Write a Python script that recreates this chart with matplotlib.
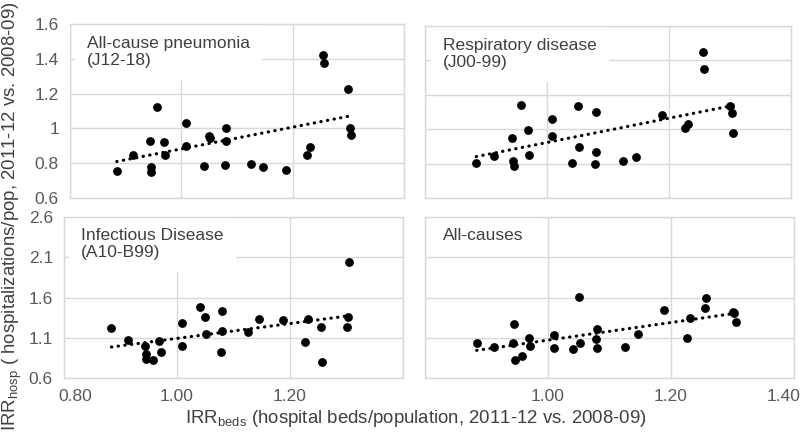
import matplotlib
matplotlib.use("Agg")
import matplotlib.pyplot as plt
from matplotlib.transforms import ScaledTranslation
import numpy as np

plt.rcParams["font.family"] = ["Liberation Sans", "DejaVu Sans"]
plt.rcParams["mathtext.fontset"] = "custom"
plt.rcParams["mathtext.rm"] = "Liberation Sans"
plt.rcParams["mathtext.it"] = "Liberation Sans:italic"

# IRR of hospital beds per population (shared x for all panels)
IRR_BEDS = [0.884, 0.913, 0.943, 0.945, 0.946, 0.957, 0.969, 0.971, 1.009, 1.009,
            1.041, 1.050, 1.052, 1.078, 1.080, 1.080, 1.125, 1.146, 1.188, 1.226,
            1.231, 1.255, 1.257, 1.300, 1.303, 1.305]

PNEUMONIA = [0.756, 0.850, 0.928, 0.776, 0.751, 1.125, 0.923, 0.850, 1.029, 0.898,
             0.785, 0.957, 0.942, 0.789, 1.001, 0.928, 0.798, 0.776, 0.760, 0.846,
             0.894, 1.421, 1.375, 1.228, 1.003, 0.961]
RESPIRATORY = [0.804, 0.844, 0.951, 0.815, 0.786, 1.142, 0.993, 0.850, 1.057, 0.962,
               0.806, 1.134, 0.899, 0.798, 1.098, 0.870, 0.815, 0.839, 1.084, 1.005,
               1.030, 1.451, 1.353, 1.134, 1.094, 0.976]
INFECTIOUS = [1.223, 1.067, 0.998, 0.896, 0.834, 0.818, 1.059, 0.928, 1.284, 0.994,
              1.476, 1.358, 1.145, 0.920, 1.435, 1.190, 1.170, 1.337, 1.317, 1.047,
              1.329, 1.231, 0.802, 1.231, 1.358, 2.036]
ALL_CAUSES = [1.034, 0.985, 1.034, 1.277, 0.828, 0.870, 1.096, 0.993, 1.137, 0.977,
              0.956, 1.610, 1.038, 1.088, 1.203, 0.972, 0.989, 1.149, 1.446, 1.100,
              1.343, 1.470, 1.594, 1.421, 1.405, 1.298]

TITLES = ["All-cause pneumonia\n(J12-18)", "Respiratory disease\n(J00-99)",
          "Infectious Disease\n(A10-B99)", "All-causes"]

X_TICKS = [0.80, 1.00, 1.20, 1.40]
Y_TICKS_TOP = [0.6, 0.8, 1.0, 1.2, 1.4, 1.6]
Y_LABELS_TOP = ["0.6", "0.8", "1", "1.2", "1.4", "1.6"]
Y_TICKS_BOT = [0.6, 1.1, 1.6, 2.1, 2.6]
Y_LABELS_BOT = ["0.6", "1.1", "1.6", "2.1", "2.6"]

GRID = "#d9d9d9"
TICK_COLOR = "#595959"
TEXT_COLOR = "#404040"

fig = plt.figure(figsize=(8.0, 4.33), dpi=100)

# panel boxes in figure fraction (left, bottom, width, height)
boxes = [
    (0.0875, 0.5427, 0.4175, 0.4019),
    (0.53125, 0.5427, 0.4575, 0.3972),
    (0.080, 0.1270, 0.42375, 0.3718),
    (0.53125, 0.1270, 0.46125, 0.3718),
]
series = [PNEUMONIA, RESPIRATORY, INFECTIOUS, ALL_CAUSES]


def nudge(label, px):
    # shift an edge tick label sideways, like Excel keeps it inside the chart
    label.set_transform(label.get_transform() + ScaledTranslation(px / 100, 0, fig.dpi_scale_trans))


x = np.array(IRR_BEDS)
for i, (box, ys, title) in enumerate(zip(boxes, series, TITLES)):
    ax = fig.add_axes(box)
    y = np.array(ys)
    top = i < 2
    left = i % 2 == 0

    ax.set_xlim(0.8, 1.4)
    ax.set_xticks(X_TICKS)
    if top:
        ax.set_ylim(0.6, 1.6)
        ax.set_yticks(Y_TICKS_TOP)
        ax.set_yticklabels(Y_LABELS_TOP if left else [])
    else:
        ax.set_ylim(0.6, 2.6)
        ax.set_yticks(Y_TICKS_BOT)
        ax.set_yticklabels(Y_LABELS_BOT if left else [])

    if top:
        ax.set_xticklabels([])
    elif left:
        ax.set_xticklabels(["0.80", "1.00", "1.20", ""])
    else:
        ax.set_xticklabels(["", "1.00", "1.20", "1.40"])

    ax.grid(True, color=GRID, linewidth=1.0, zorder=0)
    ax.set_axisbelow(True)
    for s in ax.spines.values():
        s.set_color(GRID)
        s.set_linewidth(1.0)
    ax.tick_params(length=0, labelsize=12.5, labelcolor=TICK_COLOR, pad=8)

    if not top:
        ticks = ax.xaxis.get_major_ticks()
        if left:
            nudge(ticks[0].label1, 11)
        else:
            nudge(ticks[-1].label1, -10)

    ax.scatter(x, y, s=40, color="black", zorder=4, clip_on=False, linewidths=0)

    # linear trendline
    slope, icpt = np.polyfit(x, y, 1)
    xs = np.array([x.min(), x.max()])
    ax.plot(xs, slope * xs + icpt, color="black", linewidth=2.3,
            linestyle=(0, (0.1, 2.0)), dash_capstyle="round", zorder=3)

    ax.text(0.05, 0.93, title, transform=ax.transAxes, ha="left", va="top",
            fontsize=12.5, color=TEXT_COLOR, linespacing=1.15, zorder=2,
            bbox=dict(boxstyle="square,pad=0.7", facecolor="white", edgecolor="none"))

fig.text(0.015, 0.5, r"IRR$_{\rm hosp}$ ( hospitalizations/pop, 2011-12 vs. 2008-09)",
         rotation=90, ha="center", va="center", fontsize=13.4, color=TEXT_COLOR)
fig.text(0.52, 0.033, r"IRR$_{\rm beds}$ (hospital beds/population, 2011-12 vs. 2008-09)",
         ha="center", va="center", fontsize=13.4, color=TEXT_COLOR)

fig.savefig("out.png", dpi=100)
